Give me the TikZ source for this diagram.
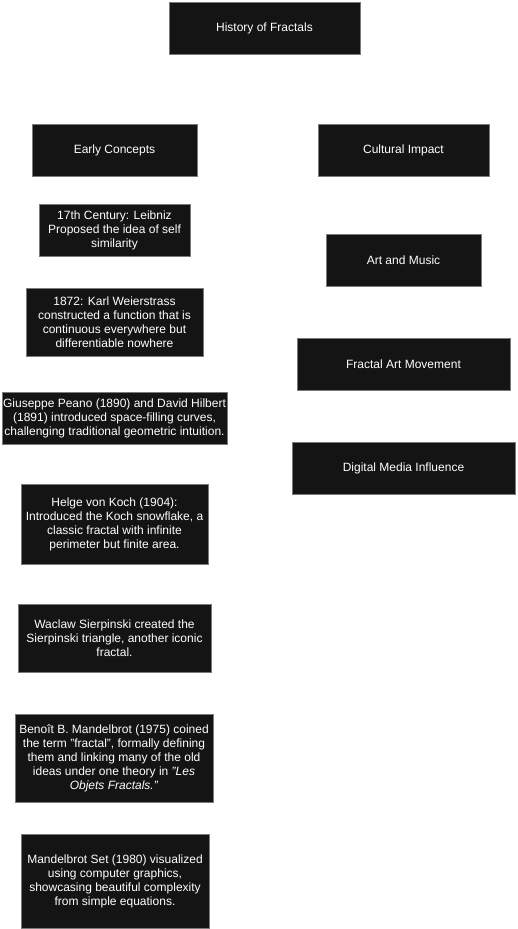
\documentclass[tikz,border=0pt]{standalone}
\usepackage{fontspec}
\setmainfont{Liberation Sans}
\definecolor{boxfill}{HTML}{141414}
\definecolor{boxline}{HTML}{7A7A7A}
\tikzset{
  darkbox/.style={draw=boxline, line width=0.8pt, fill=boxfill, text=white,
    align=center, inner sep=0pt, font=\fontsize{12}{14}\selectfont},
}

\begin{document}
\begin{tikzpicture}[x=1pt, y=-1pt]
   \useasboundingbox (0,0) rectangle (517,929);

   % top
   \node[darkbox, minimum width=191pt, minimum height=52pt] (title) at (264.5,28) {History of Fractals};

   % left column
   \node[darkbox, minimum width=165pt, minimum height=52pt] (early) at (114.5,150) {Early Concepts};
   \node[darkbox, minimum width=151pt, minimum height=52pt] (leibniz) at (114.5,230)
     {17th Century: Leibniz\\Proposed the idea of self\\similarity};
   \node[darkbox, minimum width=177pt, minimum height=68pt] (weier) at (114.5,322)
     {1872: Karl Weierstrass\\constructed a function that is\\continuous everywhere but\\differentiable nowhere};
   \node[darkbox, minimum width=225pt, minimum height=52pt] (peano) at (114.5,418)
     {Giuseppe Peano (1890) and David Hilbert\\(1891) introduced space-filling curves,\\challenging traditional geometric intuition.};
   \node[darkbox, minimum width=187pt, minimum height=80pt] (koch) at (114.5,524)
     {Helge von Koch (1904):\\Introduced the Koch snowflake, a\\classic fractal with infinite\\perimeter but finite area.};
   \node[darkbox, minimum width=193pt, minimum height=68pt] (sierp) at (114.5,638)
     {Waclaw Sierpinski created the\\Sierpinski triangle, another iconic\\fractal.};
   \node[darkbox, minimum width=198pt, minimum height=88pt] (mandel) at (114,758)
     {Benoît B. Mandelbrot (1975) coined\\the term "fractal", formally defining\\them and linking many of the old\\ideas under one theory in \textit{"Les}\\\textit{Objets Fractals."}};
   \node[darkbox, minimum width=188pt, minimum height=94pt] (mset) at (115,881)
     {Mandelbrot Set (1980) visualized\\using computer graphics,\\showcasing beautiful complexity\\from simple equations.};

   % right column
   \node[darkbox, minimum width=171pt, minimum height=52pt] (culture) at (403.5,150) {Cultural Impact};
   \node[darkbox, minimum width=155pt, minimum height=52pt] (art) at (403.5,260) {Art and Music};
   \node[darkbox, minimum width=213pt, minimum height=52pt] (fracart) at (403.5,364) {Fractal Art Movement};
   \node[darkbox, minimum width=223pt, minimum height=52pt] (digital) at (403.5,468) {Digital Media Influence};
\end{tikzpicture}
\end{document}
